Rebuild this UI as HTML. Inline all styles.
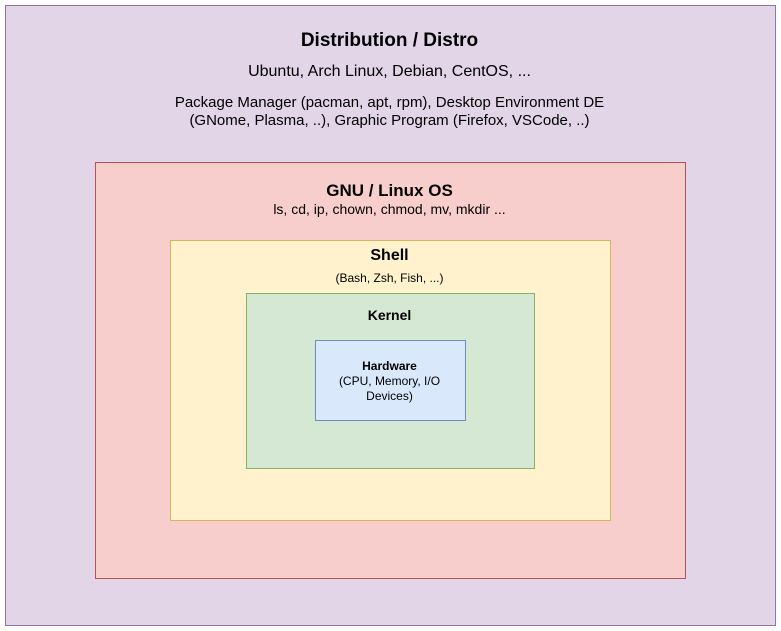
<!DOCTYPE html>
<html><head><meta charset="utf-8"><style>
body{margin:0;width:781px;height:631px;background:#fff;font-family:"Liberation Sans",sans-serif;position:relative;overflow:hidden}
.b{position:absolute;box-sizing:border-box;border:1px solid}
.t{position:absolute;left:-1px;width:100%;text-align:center;color:#000;white-space:nowrap}
</style></head><body>
<div class="b" style="left:5px;top:5px;width:771px;height:621px;background:#e1d5e7;border-color:#9673a6"></div>
<div class="t" style="top:30px;font-size:19px;font-weight:bold">Distribution / Distro</div>
<div class="t" style="top:63px;font-size:16px">Ubuntu, Arch Linux, Debian, CentOS, ...</div>
<div class="t" style="top:94px;font-size:15px;line-height:18px">Package Manager (pacman, apt, rpm), Desktop Environment DE<br>(GNome, Plasma, ..), Graphic Program (Firefox, VSCode, ..)</div>
<div class="b" style="left:95px;top:162px;width:591px;height:417px;background:#f8cecc;border-color:#b85450"></div>
<div class="t" style="top:181px;font-size:17px;font-weight:bold">GNU / Linux OS</div>
<div class="t" style="top:201px;font-size:14px">ls, cd, ip, chown, chmod, mv, mkdir ...</div>
<div class="b" style="left:170px;top:240px;width:441px;height:281px;background:#fff2cc;border-color:#d6b656"></div>
<div class="t" style="top:247px;font-size:16px;font-weight:bold">Shell</div>
<div class="t" style="top:271px;font-size:12px">(Bash, Zsh, Fish, ...)</div>
<div class="b" style="left:246px;top:293px;width:289px;height:176px;background:#d5e8d4;border-color:#82b366"></div>
<div class="t" style="top:307px;font-size:14px;font-weight:bold">Kernel</div>
<div class="b" style="left:315px;top:340px;width:151px;height:81px;background:#dae8fc;border-color:#6c8ebf"></div>
<div class="t" style="top:359px;font-size:12px;line-height:15px"><b>Hardware</b><br>(CPU, Memory, I/O<br>Devices)</div>
</body></html>
